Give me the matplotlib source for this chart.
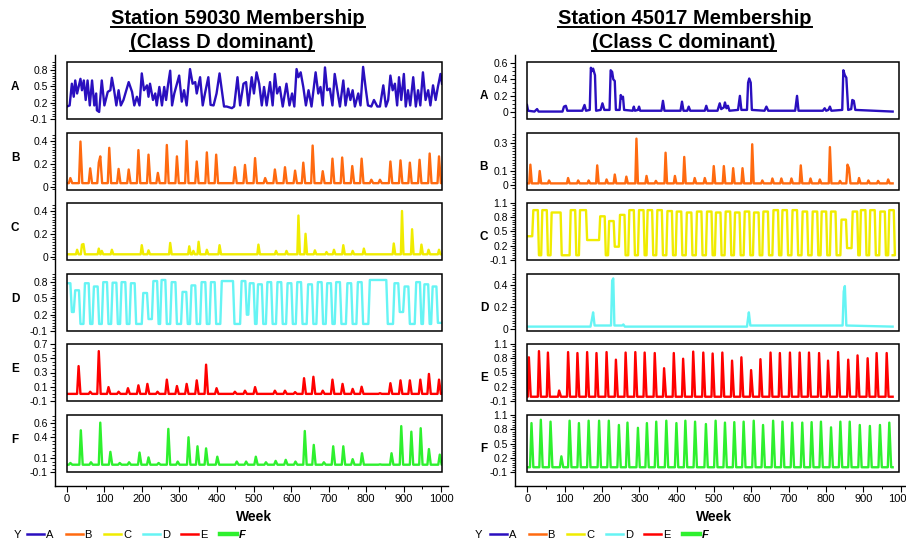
import matplotlib
matplotlib.use("Agg")
import matplotlib.pyplot as plt
from matplotlib.patches import Rectangle
from matplotlib.lines import Line2D
from matplotlib.ticker import FixedLocator, MultipleLocator

plt.rcParams['font.family'] = ['Liberation Sans', 'DejaVu Sans']

W, H = 906, 540
PH = 57  # panel height in px

letters = ['A', 'B', 'C', 'D', 'E', 'F']
colors = ['#2a0fbf', '#ff6a10', '#f0ec00', '#66f4f4', '#ff0000', '#2ef02e']

# ---------------- Station 59030 (left) ----------------
a_left_weeks = [0, 7, 13, 18, 22, 27, 36, 40, 45, 50,
                55, 61, 67, 73, 78, 80, 86, 93, 100, 109,
                116, 120, 126, 132, 138, 144, 151, 165, 174, 180,
                187, 194, 200, 206, 214, 218, 222, 230, 236, 240,
                247, 254, 260, 265, 270, 276, 281, 287, 294, 300,
                307, 313, 320, 329, 336, 343, 347, 356, 363, 369,
                378, 384, 392, 400, 408, 414, 420, 427, 441, 447,
                456, 463, 472, 479, 485, 494, 500, 507, 514, 521,
                527, 534, 543, 550, 556, 562, 569, 577, 587, 595,
                602, 608, 614, 619, 625, 632, 639, 646, 654, 665,
                672, 678, 684, 690, 696, 703, 710, 716, 723, 730,
                739, 745, 752, 758, 764, 770, 779, 785, 792, 799,
                805, 814, 821, 830, 837, 846, 853, 859, 865, 871,
                877, 883, 888, 894, 901, 906, 912, 918, 926, 933,
                939, 945, 952, 959, 966, 972, 979, 986, 992, 999,
                1003]
a_left_vals = [0.13, 0.15, 0.55, 0.31, 0.61, 0.37, 0.64, 0.43, 0.61, 0.25,
               0.61, 0.15, 0.61, 0.15, 0.37, 0.06, 0.03, 0.61, 0.15, 0.40,
               0.43, 0.66, 0.43, 0.15, 0.43, 0.15, 0.25, 0.58, 0.40, 0.15,
               0.31, 0.15, 0.74, 0.43, 0.52, 0.31, 0.55, 0.25, 0.37, 0.15,
               0.49, 0.15, 0.49, 0.25, 0.52, 0.79, 0.15, 0.37, 0.55, 0.70,
               0.22, 0.43, 0.15, 0.82, 0.55, 0.58, 0.37, 0.67, 0.15, 0.37,
               0.67, 0.16, 0.15, 0.37, 0.74, 0.43, 0.13, 0.13, 0.10, 0.13,
               0.67, 0.15, 0.55, 0.58, 0.15, 0.67, 0.37, 0.76, 0.55, 0.15,
               0.49, 0.15, 0.58, 0.15, 0.73, 0.37, 0.49, 0.13, 0.55, 0.15,
               0.37, 0.13, 0.82, 0.67, 0.76, 0.49, 0.15, 0.43, 0.13, 0.76,
               0.37, 0.49, 0.15, 0.85, 0.43, 0.46, 0.15, 0.73, 0.43, 0.13,
               0.61, 0.15, 0.46, 0.25, 0.43, 0.13, 0.37, 0.15, 0.86, 0.46,
               0.15, 0.13, 0.25, 0.13, 0.13, 0.52, 0.13, 0.25, 0.70, 0.43,
               0.55, 0.15, 0.67, 0.25, 0.73, 0.13, 0.43, 0.15, 0.67, 0.13,
               0.43, 0.15, 0.76, 0.25, 0.43, 0.15, 0.52, 0.25, 0.49, 0.73,
               0.55]

b_left_peak_weeks = [9, 36, 62, 85, 89, 113, 138, 165, 191, 218,
                     243, 267, 294, 320, 347, 374, 399, 449, 476, 503,
                     530, 556, 583, 610, 632, 657, 684, 710, 736, 763,
                     788, 814, 837, 865, 892, 917, 943, 970, 995]
b_left_peak_vals = [0.075, 0.395, 0.16, 0.21, 0.265, 0.34, 0.155, 0.15, 0.32, 0.28,
                    0.12, 0.365, 0.265, 0.40, 0.22, 0.30, 0.28, 0.17, 0.19, 0.25,
                    0.075, 0.15, 0.17, 0.14, 0.21, 0.36, 0.135, 0.245, 0.255, 0.18,
                    0.245, 0.06, 0.06, 0.22, 0.23, 0.21, 0.235, 0.29, 0.265]
b_left_base = 0.03

c_left_peak_weeks = [27, 40, 44, 85, 93, 120, 200, 218, 276, 327,
                     338, 352, 374, 408, 512, 559, 587, 619, 638, 663,
                     694, 714, 739, 764, 794, 874, 896, 923, 948, 967,
                     995]
c_left_peak_vals = [0.06, 0.105, 0.11, 0.07, 0.05, 0.06, 0.10, 0.055, 0.12, 0.09,
                    0.05, 0.13, 0.06, 0.10, 0.105, 0.05, 0.05, 0.36, 0.20, 0.055,
                    0.04, 0.06, 0.10, 0.05, 0.07, 0.115, 0.40, 0.24, 0.105, 0.06,
                    0.06]
c_left_base = 0.02

d_left_centers = [4, 27, 53, 77, 102, 127, 151, 176, 209, 236,
                  258, 285, 314, 338, 365, 390, 429, 472, 494, 516,
                  541, 568, 595, 621, 650, 676, 701, 725, 755, 783,
                  832, 881, 908, 939, 961, 983]
d_left_halfs = [5, 5, 5, 5, 5, 5, 5, 5, 5, 5,
                5, 5, 5, 5, 5, 5, 15, 5, 5, 5,
                5, 5, 5, 5, 5, 5, 5, 5, 5, 5,
                22, 5, 5, 5, 5, 5]
d_left_tops = [0.78, 0.65, 0.78, 0.72, 0.80, 0.79, 0.80, 0.78, 0.60, 0.82,
               0.84, 0.80, 0.62, 0.74, 0.80, 0.80, 0.82, 0.82, 0.78, 0.76,
               0.80, 0.80, 0.78, 0.80, 0.76, 0.80, 0.78, 0.80, 0.78, 0.80,
               0.84, 0.78, 0.72, 0.80, 0.76, 0.72]
d_left_lows = [0.25, 0.03, 0.03, 0.03, 0.03, 0.03, 0.03, 0.03, 0.12, 0.03,
               0.03, 0.03, 0.03, 0.03, 0.03, 0.03, 0.03, 0.20, 0.03, 0.03,
               0.03, 0.03, 0.03, 0.03, 0.03, 0.03, 0.03, 0.03, 0.03, 0.03,
               0.03, 0.25, 0.03, 0.03, 0.03, 0.05]

e_left_peak_weeks = [31, 62, 85, 111, 138, 163, 191, 215, 242, 267,
                     294, 320, 347, 372, 400, 449, 476, 503, 556, 583,
                     610, 634, 659, 684, 710, 737, 764, 788, 837, 865,
                     892, 917, 945, 968, 995]
e_left_peak_vals = [0.39, 0.03, 0.60, 0.095, 0.03, 0.08, 0.12, 0.14, 0.03, 0.20,
                    0.11, 0.14, 0.19, 0.41, 0.08, 0.03, 0.045, 0.095, 0.045, 0.045,
                    0.025, 0.22, 0.24, 0.045, 0.20, 0.14, 0.07, 0.10, 0.01, 0.15,
                    0.19, 0.19, 0.20, 0.28, 0.20]
e_left_base = 0.0

f_left_peak_weeks = [9, 37, 64, 89, 116, 141, 166, 194, 218, 245,
                     271, 296, 325, 349, 372, 402, 454, 479, 505, 532,
                     558, 585, 611, 636, 660, 687, 712, 739, 764, 789,
                     837, 868, 894, 921, 946, 968, 997]
f_left_peak_vals = [0.03, 0.50, 0.04, 0.61, 0.19, 0.03, 0.04, 0.18, 0.11, 0.03,
                    0.52, 0.05, 0.40, 0.27, 0.24, 0.12, 0.05, 0.05, 0.12, 0.04,
                    0.06, 0.075, 0.05, 0.49, 0.29, 0.04, 0.27, 0.27, 0.085, 0.17,
                    0.01, 0.17, 0.56, 0.48, 0.53, 0.23, 0.15]
f_left_base = 0.005

# ---------------- Station 45017 (right) ----------------
a_right_weeks = [0, 3, 20, 27, 31, 95, 99, 104, 108, 148,
                 154, 158, 168, 171, 174, 177, 182, 185, 197, 202,
                 207, 221, 224, 228, 231, 235, 238, 248, 251, 254,
                 257, 260, 283, 286, 289, 297, 300, 303, 360, 364,
                 368, 411, 415, 419, 429, 433, 437, 476, 480, 484,
                 510, 516, 520, 527, 530, 534, 538, 542, 565, 570,
                 574, 589, 592, 595, 599, 602, 636, 641, 646, 718,
                 723, 727, 792, 797, 801, 807, 811, 815, 844, 847,
                 851, 855, 860, 868, 871, 875, 879, 979]
a_right_vals = [0.09, 0.02, 0.01, 0.04, 0.01, 0.01, 0.07, 0.08, 0.02, 0.02,
                0.09, 0.02, 0.03, 0.54, 0.50, 0.53, 0.45, 0.02, 0.03, 0.11,
                0.03, 0.03, 0.51, 0.49, 0.40, 0.38, 0.03, 0.03, 0.21, 0.17,
                0.19, 0.03, 0.02, 0.07, 0.02, 0.03, 0.07, 0.02, 0.02, 0.14,
                0.02, 0.02, 0.13, 0.02, 0.02, 0.07, 0.02, 0.02, 0.08, 0.02,
                0.02, 0.11, 0.04, 0.06, 0.12, 0.05, 0.08, 0.02, 0.03, 0.20,
                0.03, 0.03, 0.36, 0.41, 0.36, 0.03, 0.02, 0.07, 0.02, 0.02,
                0.20, 0.02, 0.02, 0.05, 0.02, 0.03, 0.07, 0.02, 0.03, 0.51,
                0.45, 0.42, 0.03, 0.04, 0.15, 0.14, 0.03, 0.01]

b_right_peak_weeks = [9, 34, 59, 110, 137, 165, 188, 213, 235, 266,
                      293, 320, 345, 371, 396, 421, 449, 476, 500, 527,
                      552, 577, 603, 630, 657, 681, 708, 733, 759, 784,
                      811, 838, 858, 862, 889, 914, 940, 967]
b_right_peak_vals = [0.145, 0.10, 0.033, 0.05, 0.033, 0.033, 0.14, 0.04, 0.075, 0.06,
                     0.33, 0.065, 0.03, 0.23, 0.065, 0.20, 0.05, 0.05, 0.135, 0.135,
                     0.12, 0.12, 0.29, 0.033, 0.047, 0.047, 0.047, 0.14, 0.047, 0.04,
                     0.27, 0.03, 0.145, 0.12, 0.05, 0.033, 0.03, 0.04]
b_right_base = 0.012

c_right_centers = [23, 47, 78, 123, 150, 202, 226, 255, 280, 306,
                   329, 355, 382, 407, 434, 461, 488, 512, 538, 563,
                   589, 614, 639, 666, 690, 717, 744, 771, 795, 820,
                   848, 878, 900, 925, 952, 976]
c_right_halfs = [6, 6, 12, 6, 8, 6, 6, 6, 6, 6,
                 6, 6, 6, 6, 6, 6, 6, 6, 6, 6,
                 6, 6, 6, 6, 6, 6, 6, 6, 6, 6,
                 6, 6, 6, 6, 6, 6]
c_right_tops = [0.95, 0.95, 0.90, 0.95, 0.95, 0.82, 0.72, 0.85, 0.95, 0.95,
                0.95, 0.95, 0.93, 0.92, 0.90, 0.92, 0.92, 0.90, 0.92, 0.90,
                0.92, 0.90, 0.92, 0.95, 0.95, 0.95, 0.92, 0.92, 0.92, 0.92,
                0.75, 0.92, 0.95, 0.95, 0.92, 0.95]
c_right_lows = [0.0, 0.0, 0.0, 0.0, 0.32, 0.0, 0.18, 0.0, 0.0, 0.0,
                0.0, 0.0, 0.0, 0.0, 0.0, 0.0, 0.0, 0.0, 0.0, 0.0,
                0.0, 0.0, 0.0, 0.0, 0.0, 0.0, 0.0, 0.0, 0.0, 0.0,
                0.15, 0.0, 0.0, 0.0, 0.0, 0.0]

d_right_weeks = [0, 170, 174, 177, 181, 225, 228, 231, 234, 255,
                 258, 262, 589, 592, 594, 598, 845, 848, 851, 855,
                 979]
d_right_vals = [0.02, 0.02, 0.09, 0.15, 0.03, 0.03, 0.44, 0.46, 0.03, 0.03,
                0.04, 0.02, 0.02, 0.10, 0.15, 0.03, 0.03, 0.34, 0.39, 0.03,
                0.02]

e_right_peak_weeks = [5, 32, 56, 86, 110, 135, 161, 186, 213, 238,
                      264, 290, 315, 342, 367, 393, 418, 445, 472, 497,
                      523, 549, 574, 600, 625, 652, 677, 704, 730, 755,
                      782, 806, 833, 860, 885, 912, 936, 963]
e_right_peak_vals = [0.82, 0.95, 0.92, 0.12, 0.93, 0.91, 0.93, 0.91, 0.93, 0.77,
                     0.92, 0.93, 0.92, 0.91, 0.59, 0.91, 0.79, 0.94, 0.92, 0.90,
                     0.92, 0.75, 0.82, 0.55, 0.78, 0.92, 0.91, 0.92, 0.92, 0.92,
                     0.91, 0.75, 0.93, 0.77, 0.86, 0.80, 0.91, 0.91]
e_right_base = -0.01

f_right_peak_weeks = [12, 37, 63, 92, 114, 139, 165, 193, 219, 246,
                      269, 297, 321, 346, 373, 400, 424, 450, 479, 505,
                      530, 555, 580, 607, 632, 659, 684, 710, 737, 762,
                      787, 814, 839, 864, 891, 918, 945, 970]
f_right_peak_vals = [0.93, 1.00, 0.96, 0.23, 0.98, 0.93, 0.98, 0.98, 0.98, 0.89,
                     0.94, 0.83, 0.93, 0.96, 0.98, 0.93, 0.98, 0.96, 0.91, 0.98,
                     0.94, 0.95, 0.96, 0.98, 0.89, 0.98, 0.96, 0.94, 0.94, 0.95,
                     0.96, 0.84, 0.96, 0.96, 0.89, 0.87, 0.89, 0.94]
f_right_base = 0.0

# axis settings per panel: (ylim, major ticks, minor step)
left_axes = [((-0.1, 0.95), [-0.1, 0.2, 0.5, 0.8], 0.05),
             ((-0.03, 0.47), [0, 0.2, 0.4], 0.025),
             ((-0.03, 0.47), [0, 0.2, 0.4], 0.025),
             ((-0.1, 0.95), [-0.1, 0.2, 0.5, 0.8], 0.05),
             ((-0.1, 0.7), [-0.1, 0.1, 0.3, 0.5, 0.7], 0.05),
             ((-0.1, 0.72), [-0.1, 0.1, 0.4, 0.6], 0.05)]
right_axes = [((-0.08, 0.61), [0, 0.2, 0.4, 0.6], 0.05),
              ((-0.035, 0.37), [0, 0.1, 0.3], 0.02),
              ((-0.1, 1.1), [-0.1, 0.2, 0.5, 0.8, 1.1], 0.05),
              ((-0.02, 0.5), [0, 0.2, 0.4], 0.025),
              ((-0.1, 1.1), [-0.1, 0.2, 0.5, 0.8, 1.1], 0.05),
              ((-0.1, 1.1), [-0.1, 0.2, 0.5, 0.8, 1.1], 0.05)]


def spike_line(peak_w, peak_v, base, end_w, rise=3, fall=4):
    xs, ys = [0], [base]
    for w, v in zip(peak_w, peak_v):
        if xs[-1] >= w:
            xs.pop(); ys.pop()
        elif xs[-1] < w - rise:
            xs.append(w - rise); ys.append(base)
        xs.append(w); ys.append(v)
        xs.append(w + fall); ys.append(base)
    xs.append(end_w); ys.append(base)
    return xs, ys


def square_line(centers, halfs, tops, lows, start, end_w, ramp=4):
    xs, ys = [0], [start]
    for c, h, t, lo in zip(centers, halfs, tops, lows):
        if c - h - ramp > xs[-1]:
            xs.append(c - h - ramp); ys.append(ys[-1])
        xs += [max(c - h, xs[-1]), c + h, c + h + ramp]
        ys += [t, t, lo]
    xs.append(end_w); ys.append(ys[-1])
    return xs, ys


left_series = [
    (a_left_weeks, a_left_vals),
    spike_line(b_left_peak_weeks, b_left_peak_vals, b_left_base, 1003, 4, 5),
    spike_line(c_left_peak_weeks, c_left_peak_vals, c_left_base, 1003),
    square_line(d_left_centers, d_left_halfs, d_left_tops, d_left_lows, 0.78, 1003),
    spike_line(e_left_peak_weeks, e_left_peak_vals, e_left_base, 1003, 4, 5),
    spike_line(f_left_peak_weeks, f_left_peak_vals, f_left_base, 1003, 4, 5),
]
right_series = [
    (a_right_weeks, a_right_vals),
    spike_line(b_right_peak_weeks, b_right_peak_vals, b_right_base, 979),
    square_line(c_right_centers, c_right_halfs, c_right_tops, c_right_lows, 0.4, 979, 3),
    (d_right_weeks, d_right_vals),
    spike_line(e_right_peak_weeks, e_right_peak_vals, e_right_base, 979, 3, 5),
    spike_line(f_right_peak_weeks, f_right_peak_vals, f_right_base, 979, 4, 5),
]

fig = plt.figure(figsize=(W / 100, H / 100), dpi=100)
panel_tops = [62, 133, 203, 274, 344, 415]


def add_frame(left_px, right_px, zero_px, px_per_week):
    bg = fig.add_axes([left_px / W, 1 - 486 / H, (right_px - left_px) / W, (486 - 55) / H], zorder=0)
    bg.patch.set_alpha(0)
    bg.set_xlim(-(zero_px - left_px) / px_per_week, (right_px - zero_px) / px_per_week)
    bg.set_ylim(0, 1)
    bg.spines['top'].set_visible(False)
    bg.spines['right'].set_visible(False)
    for s in ('left', 'bottom'):
        bg.spines[s].set_linewidth(1.0)
    bg.set_yticks([])
    bg.xaxis.set_major_locator(MultipleLocator(100))
    bg.xaxis.set_minor_locator(MultipleLocator(50))
    bg.tick_params(axis='x', which='major', length=4, width=0.8, labelsize=8, pad=2)
    bg.tick_params(axis='x', which='minor', length=2.5, width=0.7)
    return bg


def add_panel(left_px, width_px, top_px, xmax, cfg, color, xs, ys):
    ylim, ticks, minor = cfg
    ax = fig.add_axes([left_px / W, 1 - (top_px + PH) / H, width_px / W, PH / H], zorder=2)
    ax.patch.set_alpha(0)
    ax.plot(xs, ys, color=color, lw=1.7, solid_joinstyle='round')
    ax.set_xlim(0, xmax)
    ax.set_ylim(*ylim)
    for s in ax.spines.values():
        s.set_visible(False)
    ax.spines['left'].set_position(('outward', 12 * 72 / 100))
    ax.add_patch(Rectangle((0, 0), 1, 1, transform=ax.transAxes, fill=False,
                           lw=1.1, ec='black', clip_on=False, zorder=5))
    ax.set_xticks([])
    ax.yaxis.set_major_locator(FixedLocator(ticks))
    ax.yaxis.set_minor_locator(MultipleLocator(minor))
    ax.set_yticklabels([f"{t:g}" for t in ticks])
    ax.tick_params(axis='y', which='major', length=3.6, width=0.8, labelsize=7.5, pad=1.5)
    ax.tick_params(axis='y', which='minor', length=2, width=0.6)
    return ax


add_frame(55, 448, 67, 0.374)
add_frame(515, 906, 527.3, 0.3734)

for i in range(6):
    xs, ys = left_series[i]
    add_panel(67, 375, panel_tops[i], 1003, left_axes[i], colors[i], xs, ys)
    fig.text(15 / W, 1 - (panel_tops[i] + 25) / H, letters[i], fontsize=8.5,
             weight='bold', ha='center', va='center')
    xs, ys = right_series[i]
    add_panel(527, 372, panel_tops[i], 996, right_axes[i], colors[i], xs, ys)
    fig.text(484 / W, 1 - (panel_tops[i] + 34) / H, letters[i], fontsize=8.5,
             weight='bold', ha='center', va='center')

# axis titles
fig.text(254 / W, 1 - 517 / H, 'Week', fontsize=10, weight='bold', ha='center', va='center')
fig.text(714 / W, 1 - 517 / H, 'Week', fontsize=10, weight='bold', ha='center', va='center')

# underlined titles
titles = [(238, 24, 'Station 59030 Membership'), (222, 48, '(Class D dominant)'),
          (685, 24, 'Station 45017 Membership'), (684, 48, '(Class C dominant)')]
title_artists = []
for x, y, s in titles:
    t = fig.text(x / W, 1 - y / H, s, fontsize=14.5, weight='bold', ha='center', va='baseline')
    title_artists.append((t, y))

fig.canvas.draw()
renderer = fig.canvas.get_renderer()
for t, y in title_artists:
    bb = t.get_window_extent(renderer)
    uy = 1 - (y + 3) / H
    fig.add_artist(Line2D([bb.x0 / W, bb.x1 / W], [uy, uy], color='black', lw=1.4))

# legends
for y_x, first_x in [(17, 27), (478, 490)]:
    fig.text(y_x / W, 1 - 535 / H, 'Y', fontsize=8, ha='center', va='center')
    for i, k in enumerate(letters):
        x0 = first_x + i * 38.6
        fig.add_artist(Line2D([x0 / W, (x0 + 17) / W], [1 - 534 / H] * 2, color=colors[i],
                              lw=3.2 if k == 'F' else 1.8))
        fig.text((x0 + 19) / W, 1 - 535 / H, k, fontsize=8, ha='left', va='center',
                 weight='bold' if k == 'F' else 'normal',
                 style='italic' if k == 'F' else 'normal')

fig.savefig('out.png', dpi=100)
